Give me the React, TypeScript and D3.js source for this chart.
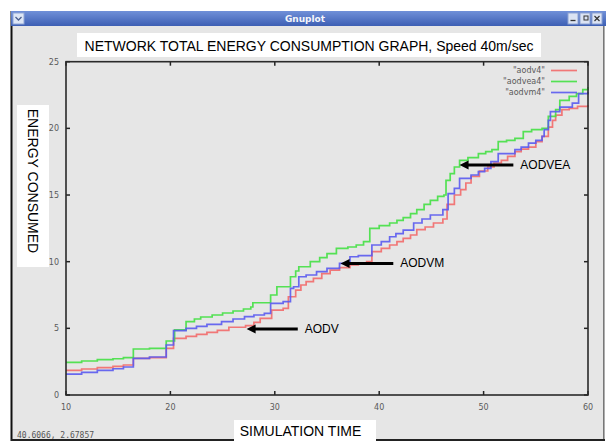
import React from "react";
import * as d3 from "d3";

// simulation time (x) and energy consumed (y)
const aodvX = [10, 11.5, 13, 14.5, 15.5, 16.45, 18, 19.6, 20.3, 21.5, 22.5, 23.5, 24.5, 25.6, 27.2, 28.0, 28.6, 29.7, 30.8, 31.3, 32.0, 32.5, 33.0, 33.7, 34.5, 35.3, 36.2, 37.2, 38.0, 38.8, 39.3, 40.2, 41.0, 41.7, 42.3, 43.0, 43.6, 44.4, 45.2, 46.1, 46.5, 47.2, 47.8, 48.3, 48.8, 49.6, 50.4, 51.0, 51.7, 52.3, 53.0, 53.6, 54.3, 55.0, 55.6, 56.2, 56.6, 56.9, 57.5, 58.2, 59.0, 60];
const aodvY = [1.85, 1.95, 2.05, 2.15, 2.25, 2.75, 2.8, 3.5, 4.25, 4.4, 4.55, 4.7, 4.85, 5.08, 5.2, 5.45, 5.75, 6.37, 6.5, 7.37, 7.87, 8.25, 8.5, 8.75, 9.1, 9.37, 9.55, 9.75, 9.9, 10.0, 10.75, 11.0, 11.25, 11.5, 11.75, 12.0, 12.4, 12.6, 12.9, 13.2, 14.3, 15.0, 15.4, 15.9, 16.4, 16.8, 17.1, 17.4, 17.6, 17.9, 18.25, 18.45, 18.6, 19.0, 19.4, 20.1, 20.6, 21.0, 21.4, 21.5, 21.65, 21.75];

const aodveaX = [10, 11.5, 13, 14.5, 15.5, 16.45, 18, 19.6, 20.4, 21.5, 22.3, 22.9, 24, 25, 26, 27, 27.7, 27.9, 29.6, 30.2, 31.5, 32.0, 32.3, 33.4, 34.3, 35.0, 35.9, 37.0, 37.8, 38.5, 39.1, 40.0, 41.0, 41.7, 42.3, 43.0, 43.6, 44.3, 44.9, 45.6, 46.2, 46.4, 46.8, 47.2, 47.7, 48.5, 49.5, 50.2, 50.8, 51.4, 52.2, 53.0, 53.8, 54.6, 55.6, 56.2, 56.9, 57.3, 58.2, 58.9, 59.5, 60];
const aodveaY = [2.45, 2.55, 2.65, 2.72, 2.8, 3.45, 3.5, 4.05, 4.88, 5.5, 5.7, 5.85, 6.0, 6.15, 6.3, 6.45, 6.6, 6.92, 7.5, 8.12, 8.87, 9.3, 9.62, 10.0, 10.3, 10.6, 11.0, 11.1, 11.25, 11.5, 12.5, 12.7, 12.9, 13.1, 13.3, 13.6, 13.9, 14.3, 14.6, 14.9, 15.0, 16.1, 16.6, 17.1, 17.6, 17.8, 18.1, 18.25, 18.4, 19.0, 19.1, 19.25, 19.75, 19.9, 20.0, 20.9, 21.4, 22.1, 22.4, 22.6, 22.9, 23.1];

const aodvmX = [10, 11.5, 13, 14.5, 15.5, 16.45, 18, 19.6, 20.3, 21.5, 22.5, 23.5, 24.9, 26, 27.1, 28, 29.0, 29.6, 30.8, 31.5, 31.8, 32.3, 33.0, 34.0, 35.0, 36.2, 37.2, 38.0, 39.3, 40.2, 41.0, 41.6, 42.3, 43.3, 44.1, 44.9, 46.1, 46.6, 47.2, 47.7, 48.8, 49.5, 50.1, 50.7, 51.4, 53.0, 53.6, 54.3, 55.0, 55.6, 55.8, 56.2, 56.4, 57.3, 58.5, 59.1, 60];
const aodvmY = [1.57, 1.7, 1.85, 1.97, 2.1, 2.75, 2.85, 3.75, 4.83, 5.0, 5.15, 5.3, 5.5, 5.7, 5.88, 6.0, 6.12, 6.87, 7.0, 8.0, 8.12, 8.87, 9.0, 9.25, 9.5, 9.87, 10.37, 10.45, 11.25, 11.5, 11.87, 12.1, 12.37, 12.9, 13.2, 13.5, 13.9, 15.1, 15.5, 16.25, 16.5, 16.75, 17.0, 17.5, 18.1, 18.4, 18.6, 18.9, 19.1, 19.4, 19.9, 20.6, 21.25, 21.6, 21.9, 22.6, 22.75];

const xTicks = [10, 20, 30, 40, 50, 60];
const yTicks = [0, 5, 10, 15, 20, 25];
const legendNames = ['"aodv4"', '"aodvea4"', '"aodvm4"'];
const colors = ["#f26a6a", "#44e044", "#5a5af0"];

// annotation arrows: tip x, tail x, y, label
const arrowTipX = [27.3, 36.3, 47.7];
const arrowTailX = [32.2, 41.35, 52.85];
const arrowY = [4.95, 9.87, 17.25];
const arrowText = ["AODV", "AODVM", "AODVEA"];

const W = 608, H = 441;

export default function App() {
  const x = d3.scaleLinear().domain([10, 60]).range([66, 588]);
  const y = d3.scaleLinear().domain([0, 25]).range([395, 61.7]);

  const line = d3.line<[number, number]>()
    .x(d => x(d[0]))
    .y(d => y(d[1]))
    .curve(d3.curveStepAfter);

  const series = [
    aodvX.map((v, i) => [v, aodvY[i]] as [number, number]),
    aodveaX.map((v, i) => [v, aodveaY[i]] as [number, number]),
    aodvmX.map((v, i) => [v, aodvmY[i]] as [number, number]),
  ];

  const tickFont = { fontFamily: "DejaVu Sans", fontSize: 8, fill: "#5a5a5a" };

  return (
    <svg width={W} height={H} style={{ position: "absolute", left: 0, top: 0 }}>
      <defs>
        <linearGradient id="bar" x1="0" y1="0" x2="0" y2="1">
          <stop offset="0" stopColor="#7090d8" />
          <stop offset="1" stopColor="#3d5fb4" />
        </linearGradient>
      </defs>
      <rect width={W} height={H} fill="#fff" />

      {/* window */}
      <rect x={11} y={11} width={594} height={431} fill="#e6e6e6" />
      <rect x={10.5} y={11} width={2} height={430} fill="#111" />
      <rect x={603} y={26} width={1.5} height={415} fill="#777" />
      <rect x={11} y={439} width={594} height={2} fill="#222" />
      <rect x={11} y={11} width={595} height={15} fill="url(#bar)" />
      <rect x={13} y={13} width={11} height={11} fill="#dde6f5" stroke="#90a6d6" />
      <path d="M15.5,17 L18.5,20 L21.5,17" fill="none" stroke="#4a5f90" strokeWidth={1.3} />
      {[568, 580, 592].map(bx => (
        <rect key={bx} x={bx} y={13} width={10} height={11} fill="#dbe3f3" stroke="#8ea3d3" />
      ))}
      <path d="M570.5,20.5 H575.5" stroke="#333" strokeWidth={1.3} />
      <rect x={584} y={16} width={4} height={4} fill="none" stroke="#333" />
      <path d="M594.5,16 L599.5,21 M599.5,16 L594.5,21" stroke="#333" strokeWidth={1.2} />
      <text x={305} y={22} textAnchor="middle" fontFamily="DejaVu Sans" fontSize={9} fontWeight="bold" fill="#f4f6fb">Gnuplot</text>

      {/* title */}
      <rect x={77} y={33} width={464} height={24} fill="#fff" />
      <text x={309} y={51} textAnchor="middle" fontFamily="Liberation Sans" fontSize={14} fill="#000">
        NETWORK TOTAL ENERGY CONSUMPTION GRAPH, Speed 40m/sec
      </text>

      {/* y label */}
      <rect x={17} y={105} width={32} height={162} fill="#fff" />
      <text transform="translate(28,181) rotate(90)" textAnchor="middle" fontFamily="Liberation Sans" fontSize={14} fill="#000">
        ENERGY CONSUMED
      </text>

      {/* x label */}
      <rect x={234} y={420} width={142} height={21} fill="#fff" />
      <text x={300.5} y={436} textAnchor="middle" fontFamily="Liberation Sans" fontSize={14} fill="#000">
        SIMULATION TIME
      </text>

      {/* ticks */}
      {yTicks.map(t => (
        <g key={"y" + t}>
          <line x1={x(10)} x2={x(10) + 4} y1={y(t)} y2={y(t)} stroke="#222" strokeWidth={1.5} />
          <line x1={x(60)} x2={x(60) - 4} y1={y(t)} y2={y(t)} stroke="#222" strokeWidth={1.5} />
          <text x={59} y={y(t) + 3} textAnchor="end" {...tickFont}>{t}</text>
        </g>
      ))}
      {xTicks.map(t => (
        <g key={"x" + t}>
          <line x1={x(t)} x2={x(t)} y1={y(0)} y2={y(0) - 4} stroke="#222" strokeWidth={1.5} />
          <line x1={x(t)} x2={x(t)} y1={y(25)} y2={y(25) + 4} stroke="#222" strokeWidth={1.5} />
          <text x={x(t)} y={410} textAnchor="middle" {...tickFont}>{t}</text>
        </g>
      ))}

      {/* series */}
      {series.map((s, i) => (
        <path key={i} d={line(s) || ""} fill="none" stroke={colors[i]} strokeWidth={1.7} strokeOpacity={0.9} />
      ))}

      {/* legend */}
      {legendNames.map((n, i) => (
        <g key={n}>
          <text x={545} y={73 + i * 11} textAnchor="end" {...tickFont}>{n}</text>
          <line x1={551} x2={577} y1={70.5 + i * 11} y2={70.5 + i * 11} stroke={colors[i]} strokeWidth={1.7} strokeOpacity={0.9} />
        </g>
      ))}

      {/* frame */}
      <rect x={x(10)} y={y(25)} width={x(60) - x(10)} height={y(0) - y(25)} fill="none" stroke="#2a2a2a" strokeWidth={1.6} />

      {/* annotation arrows */}
      {arrowText.map((t, i) => {
        const tx = x(arrowTipX[i]), ex = x(arrowTailX[i]), ay = y(arrowY[i]);
        return (
          <g key={t}>
            <line x1={tx + 7} x2={ex} y1={ay} y2={ay} stroke="#000" strokeWidth={3} />
            <path d={`M${tx},${ay} L${tx + 9},${ay - 4.5} L${tx + 9},${ay + 4.5} Z`} fill="#000" />
            <text x={ex + 7} y={ay + 4} fontFamily="Liberation Sans" fontSize={12} fill="#000">{t}</text>
          </g>
        );
      })}

      <text x={17} y={438} fontFamily="DejaVu Sans Mono" fontSize={8} fill="#555">40.6066,  2.67857</text>
    </svg>
  );
}
